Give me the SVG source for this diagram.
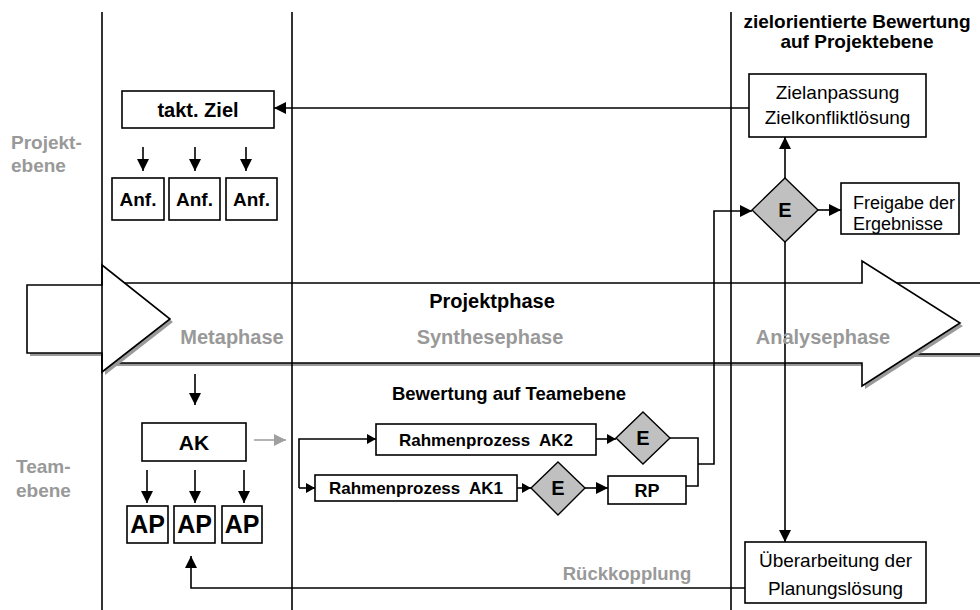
<svg xmlns="http://www.w3.org/2000/svg" width="980" height="610" viewBox="0 0 980 610">
<defs>
<marker id="ah" markerUnits="userSpaceOnUse" markerWidth="13" markerHeight="12" refX="12" refY="6" orient="auto"><path d="M0,0 L12,6 L0,12 z" fill="#000"/></marker>
<marker id="ahs" markerUnits="userSpaceOnUse" markerWidth="10" markerHeight="10" refX="9" refY="5" orient="auto"><path d="M0,0 L9,5 L0,10 z" fill="#000"/></marker>
<marker id="ahg" markerUnits="userSpaceOnUse" markerWidth="13" markerHeight="12" refX="12" refY="6" orient="auto"><path d="M0,0 L12,6 L0,12 z" fill="#a0a0a0"/></marker>
<style>
.box{fill:#fff;stroke:#000;stroke-width:1.6}
.dia{fill:#c0c0c0;stroke:#000;stroke-width:1.4}
.ln{fill:none;stroke:#000;stroke-width:1.6}
.sh{fill:#9a9a9a}
.wh{fill:#fff;stroke:#000;stroke-width:1.6}
text{font-family:"Liberation Sans",Arial,sans-serif;fill:#000}
.b{font-weight:bold}
.g{fill:#999;font-weight:bold}
.m{text-anchor:middle}
</style>
</defs>
<g id="phase-arrow">
<rect class="sh" x="883" y="286" width="110" height="71"/>
<rect class="wh" x="880" y="283" width="110" height="71"/>
<polygon class="sh" points="105,286 865,286 865,264 963,326 865,389 865,366 105,366"/>
<polygon class="wh" points="102,283 862,283 862,261 960,323 862,386 862,363 102,363"/>
<polygon class="sh" points="30,288 105,288 105,268 173,322 105,375 105,356 30,356"/>
<polygon class="wh" points="27,285 102,285 102,265 170,319 102,372 102,353 27,353"/>
</g>
<g id="dividers">
<line class="ln" x1="102" y1="12" x2="102" y2="610"/>
<line class="ln" x1="292" y1="12" x2="292" y2="610"/>
<line class="ln" x1="731" y1="12" x2="731" y2="610"/>
</g>
<g id="connectors">
<path class="ln" d="M749,108 H274" marker-end="url(#ah)"/>
<path class="ln" d="M143,147 V171" marker-end="url(#ah)"/>
<path class="ln" d="M195,147 V171" marker-end="url(#ah)"/>
<path class="ln" d="M246,147 V171" marker-end="url(#ah)"/>
<path class="ln" d="M195,374 V405" marker-end="url(#ah)"/>
<path class="ln" d="M147,470 V503" marker-end="url(#ah)"/>
<path class="ln" d="M195,470 V503" marker-end="url(#ah)"/>
<path class="ln" d="M244,470 V503" marker-end="url(#ah)"/>
<path d="M254,440 H286" fill="none" stroke="#a0a0a0" stroke-width="1.6" marker-end="url(#ahg)"/>
<path class="ln" d="M299,488 V439 H376" marker-end="url(#ahs)"/>
<path class="ln" d="M299,488 H315" marker-end="url(#ahs)"/>
<path class="ln" d="M596,439 H616" marker-end="url(#ahs)"/>
<path class="ln" d="M517,488 H531" marker-end="url(#ahs)"/>
<path class="ln" d="M585,488 H608" marker-end="url(#ah)"/>
<path class="ln" d="M670,438 H698 V486 H686"/>
<path class="ln" d="M698,464 H714 V211 H752" marker-end="url(#ah)"/>
<path class="ln" d="M785,178 V137" marker-end="url(#ah)"/>
<path class="ln" d="M818,210 H841" marker-end="url(#ah)"/>
<path class="ln" d="M785,242 V542" marker-end="url(#ah)"/>
<path class="ln" d="M745,588 H191 V556" marker-end="url(#ah)"/>
</g>
<g id="takt-ziel"><rect class="box" x="122" y="91" width="152" height="37"/><text class="b m" x="198" y="117" font-size="20">takt. Ziel</text></g>
<g id="anf1"><rect class="box" x="112" y="178" width="52" height="42"/><text class="b m" x="138" y="206" font-size="19">Anf.</text></g>
<g id="anf2"><rect class="box" x="169" y="178" width="51" height="42"/><text class="b m" x="194.5" y="206" font-size="19">Anf.</text></g>
<g id="anf3"><rect class="box" x="226" y="178" width="51" height="42"/><text class="b m" x="251.5" y="206" font-size="19">Anf.</text></g>
<g id="ak"><rect class="box" x="142" y="423" width="104" height="38"/><text class="b m" x="194" y="450" font-size="21">AK</text></g>
<g id="ap1"><rect class="box" x="127" y="506" width="41" height="37"/><text class="b m" x="147.5" y="533" font-size="25">AP</text></g>
<g id="ap2"><rect class="box" x="174" y="506" width="41" height="37"/><text class="b m" x="194.5" y="533" font-size="25">AP</text></g>
<g id="ap3"><rect class="box" x="222" y="506" width="40" height="37"/><text class="b m" x="242" y="533" font-size="25">AP</text></g>
<g id="rahmen-ak2"><rect class="box" x="376" y="424" width="220" height="31"/><text class="b m" x="486" y="445.5" font-size="17">Rahmenprozess&#160; AK2</text></g>
<g id="rahmen-ak1"><rect class="box" x="315" y="475" width="202" height="26"/><text class="b m" x="416" y="494" font-size="17">Rahmenprozess&#160; AK1</text></g>
<g id="e-ak2"><polygon class="dia" points="643,412 670,438 643,464 616,438"/><text class="b m" x="643" y="445" font-size="20">E</text></g>
<g id="e-ak1"><polygon class="dia" points="558,462 585,488 558,515 531,488"/><text class="b m" x="558" y="495" font-size="20">E</text></g>
<g id="rp"><rect class="box" x="608" y="476" width="78" height="28"/><text class="b m" x="647" y="496.5" font-size="18">RP</text></g>
<g id="e-projekt"><polygon class="dia" points="785,178 818,210 785,242 752,210"/><text class="b m" x="785" y="217" font-size="20">E</text></g>
<g id="zielanpassung"><rect class="box" x="749" y="74" width="177" height="63"/><text class="m" x="837.5" y="98.5" font-size="19">Zielanpassung</text><text class="m" x="837.5" y="123.5" font-size="19">Zielkonfliktlösung</text></g>
<g id="freigabe"><rect class="box" x="841" y="183" width="118" height="51"/><text x="853" y="209" font-size="18">Freigabe der</text><text x="853" y="230" font-size="18">Ergebnisse</text></g>
<g id="ueberarbeitung"><rect class="box" x="745" y="542" width="181" height="61"/><text class="m" x="835.5" y="567" font-size="19">Überarbeitung der</text><text class="m" x="835.5" y="595" font-size="19">Planungslösung</text></g>
<g id="labels">
<text class="b m" x="857" y="28" font-size="19">zielorientierte Bewertung</text>
<text class="b m" x="857" y="48" font-size="19">auf Projektebene</text>
<text class="g" x="11" y="149" font-size="19">Projekt-</text>
<text class="g" x="11" y="172" font-size="19">ebene</text>
<text class="g" x="16" y="473" font-size="19">Team-</text>
<text class="g" x="16" y="497" font-size="19">ebene</text>
<text class="b m" x="492" y="308" font-size="20">Projektphase</text>
<text class="g m" x="232" y="344" font-size="20">Metaphase</text>
<text class="g m" x="490" y="344" font-size="20">Synthesephase</text>
<text class="g m" x="823" y="344" font-size="20">Analysephase</text>
<text class="b m" x="509" y="400" font-size="18.5">Bewertung auf Teamebene</text>
<text class="g m" x="627" y="580" font-size="18.5">Rückkopplung</text>
</g>
</svg>
